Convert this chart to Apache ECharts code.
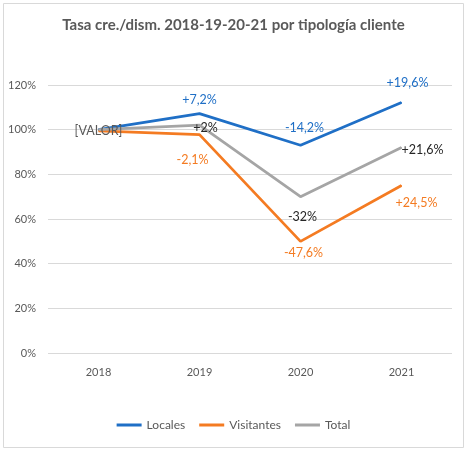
<!DOCTYPE html>
<html lang="es">
<head>
	<meta charset="UTF-8" />
	<title>Tasa cre./dism. 2018-19-20-21</title>
	<script src="https://cdn.jsdelivr.net/npm/echarts@6/dist/echarts.min.js"></script>
	<style>
		html, body { margin: 0; padding: 0; background: #ffffff; }
		#chart { width: 467px; height: 451px; }
	</style>
</head>
<body>
	<div id="chart"></div>
	<script>
		// datos
		const years = ['2018', '2019', '2020', '2021'];
		const locales = [100, 107.2, 93, 112.2];
		const visitantes = [99.5, 97.8, 50, 75];
		const total = [100, 102, 70, 92];

		const localesLabels = ['', '+7,2%', '-14,2%', '+19,6%'];
		const visitantesLabels = ['', '-2,1%', '-47,6%', '+24,5%'];
		const totalLabels = ['[VALOR]', '+2%', '-32%', '+21,6%'];

		const yTicks = [0, 20, 40, 60, 80, 100, 120];

		// desplazamiento de cada etiqueta respecto al punto
		const localesOffset = [[0, 0], [0, -14], [4, -17], [6, -19]];
		const visitantesOffset = [[0, 0], [-7, 25], [3, 12], [15, 17]];
		const totalOffset = [[0, 1], [6, 3], [2, 20], [21, 2]];

		const FONT = 'Lato, "Open Sans", sans-serif';

		function buildData(values, labels, offsets, color) {
			return values.map((v, i) => ({
				value: v,
				label: {
					show: labels[i] !== '',
					formatter: labels[i],
					position: 'inside',
					offset: offsets[i],
					color: i === 0 && color === '#262626' ? '#595959' : color,
					fontSize: 12.5,
					fontFamily: FONT
				}
			}));
		}

		const chart = echarts.init(document.getElementById('chart'));

		chart.setOption({
			animation: false,
			title: {
				text: 'Tasa cre./dism. 2018-19-20-21 por tipología cliente',
				left: 'center',
				top: 13,
				textStyle: { color: '#595959', fontSize: 15, fontWeight: 'bold', fontFamily: FONT }
			},
			graphic: [{
				type: 'rect',
				shape: { x: 3.5, y: 3.5, width: 460, height: 444 },
				style: { fill: 'none', stroke: '#d9d9d9', lineWidth: 1 },
				silent: true
			}],
			legend: {
				bottom: 15,
				left: 'center',
				itemWidth: 25,
				itemHeight: 3,
				itemGap: 14,
				icon: 'rect',
				textStyle: { color: '#595959', fontSize: 12, fontFamily: FONT },
				data: ['Locales', 'Visitantes', 'Total']
			},
			grid: { left: 48, right: 15, top: 85, bottom: 98 },
			xAxis: {
				type: 'category',
				data: years,
				boundaryGap: true,
				axisLine: { show: false },
				axisTick: { show: false },
				axisLabel: { color: '#595959', fontSize: 11, margin: 14, fontFamily: FONT }
			},
			yAxis: {
				type: 'value',
				min: yTicks[0],
				max: yTicks[yTicks.length - 1],
				interval: 20,
				axisLine: { show: false },
				axisTick: { show: false },
				splitLine: { lineStyle: { color: '#d9d9d9', width: 1 } },
				axisLabel: { color: '#595959', fontSize: 11, margin: 12, fontFamily: FONT, formatter: '{value}%' }
			},
			series: [
				{
					name: 'Locales',
					type: 'line',
					data: buildData(locales, localesLabels, localesOffset, '#1f6fc6'),
					symbol: 'circle',
					symbolSize: 1,
					itemStyle: { color: '#1f6fc6' },
					lineStyle: { color: '#1f6fc6', width: 2.75 }
				},
				{
					name: 'Visitantes',
					type: 'line',
					data: buildData(visitantes, visitantesLabels, visitantesOffset, '#f47b22'),
					symbol: 'circle',
					symbolSize: 1,
					itemStyle: { color: '#f47b22' },
					lineStyle: { color: '#f47b22', width: 2.75 }
				},
				{
					name: 'Total',
					type: 'line',
					data: buildData(total, totalLabels, totalOffset, '#262626'),
					symbol: 'circle',
					symbolSize: 1,
					itemStyle: { color: '#a5a5a5' },
					lineStyle: { color: '#a5a5a5', width: 2.75 }
				}
			]
		});
	</script>
</body>
</html>
